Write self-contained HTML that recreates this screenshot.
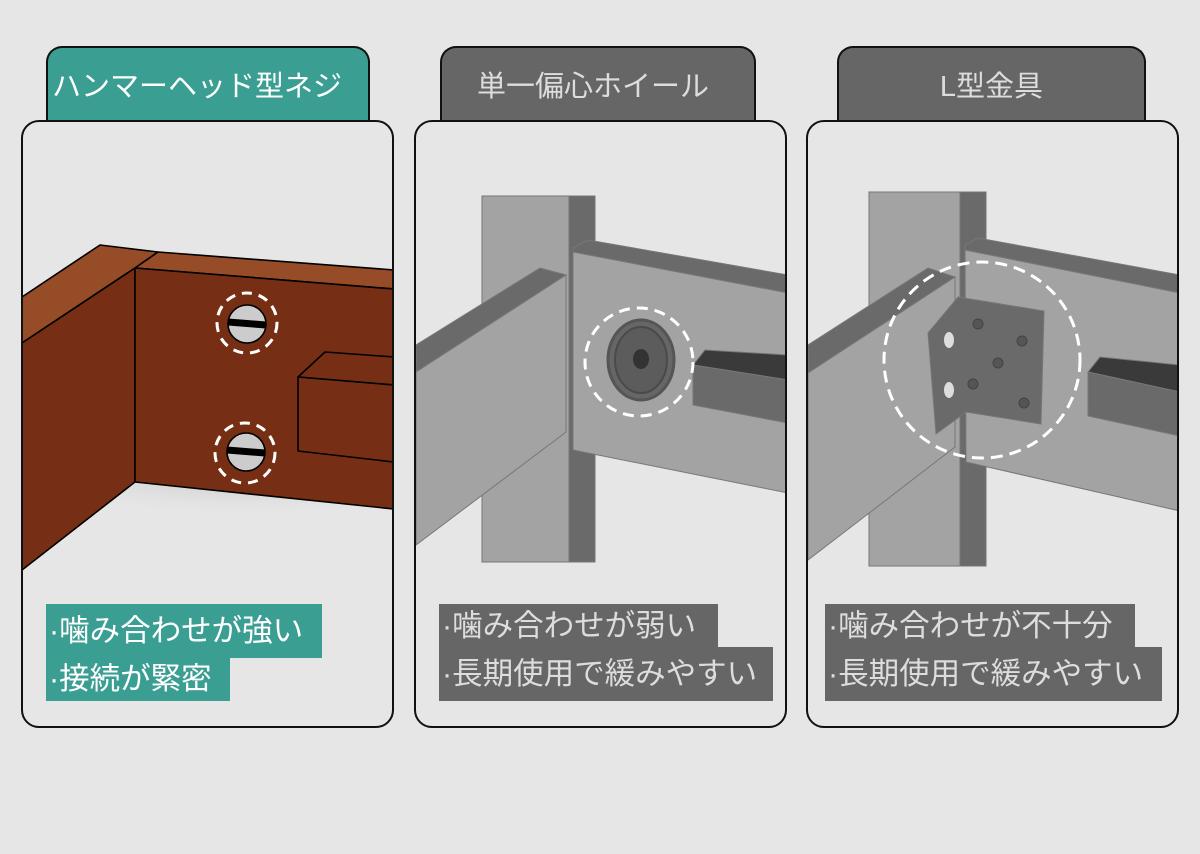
<!DOCTYPE html>
<html><head><meta charset="utf-8"><style>
body{margin:0;background:#e6e6e6;width:1200px;height:854px;overflow:hidden;position:relative;font-family:"Liberation Sans","Noto Sans CJK JP",sans-serif}
.tab{position:absolute;top:46px;height:76px;border:2px solid #111;border-bottom:none;border-radius:16px 16px 0 0;box-sizing:border-box;font-size:29px;display:flex;align-items:center;justify-content:center;padding-bottom:2px}
.card{position:absolute;top:120px;height:608px;border:2px solid #111;border-radius:18px;box-sizing:border-box;background:#e6e6e6;overflow:hidden}
.ln{position:absolute;font-size:30.5px;line-height:1;padding:0 0 0 3px;box-sizing:border-box;display:flex;align-items:center;white-space:nowrap}
</style></head><body>
<div class="tab" style="left:46px;width:324px;background:#3a9e92;color:#fff;padding-right:22px">ハンマーヘッド型ネジ</div>
<div class="tab" style="left:440px;width:316px;background:#666;color:#ddd;padding-right:10px">単一偏心ホイール</div>
<div class="tab" style="left:837px;width:309px;background:#666;color:#ddd">L型金具</div>

<div class="card" style="left:21px;width:373px">
<svg width="373" height="608" viewBox="21 120 373 608" style="position:absolute;left:-2px;top:-2px">
<defs><radialGradient id="sh" cx="0.5" cy="0" r="0.8"><stop offset="0" stop-color="#bbb"/><stop offset="1" stop-color="#e6e6e6" stop-opacity="0"/></radialGradient></defs>
<ellipse cx="250" cy="500" rx="160" ry="30" fill="url(#sh)"/>
<g stroke="#000" stroke-width="1.6" stroke-linejoin="round">
<polygon points="22,297 100,245 158,252 135,268 22,343" fill="#974c28"/>
<polygon points="135,268 158,252 394,270 394,289" fill="#974c28"/>
<polygon points="22,343 135,268 135,482 22,570" fill="#762f14"/>
<polygon points="135,268 394,289 394,509 135,482" fill="#762f14"/>
<polygon points="298,377 325,352 394,357 394,385" fill="#762f14"/>
<polygon points="298,377 394,385 394,462 298,451" fill="#762f14"/>
<circle cx="247" cy="324" r="19" fill="#ccc"/>
<circle cx="246" cy="452" r="19" fill="#ccc"/>
</g>
<line x1="228" y1="322" x2="266" y2="325" stroke="#000" stroke-width="7"/>
<line x1="227" y1="450" x2="265" y2="453" stroke="#000" stroke-width="7"/>
<circle cx="247" cy="323" r="30" fill="none" stroke="#fff" stroke-width="3" stroke-dasharray="10,7"/>
<circle cx="245" cy="453" r="30" fill="none" stroke="#fff" stroke-width="3" stroke-dasharray="10,7"/>
</svg>
</div>

<div class="card" style="left:414px;width:373px">
<svg width="373" height="608" viewBox="414 120 373 608" style="position:absolute;left:-2px;top:-2px">
<g stroke="#777" stroke-width="1">
<rect x="482" y="196" width="87" height="366" fill="#a3a3a3"/>
<rect x="569" y="196" width="26" height="366" fill="#6a6a6a"/>
<polygon points="416,345 540,268 566,275 416,372" fill="#6a6a6a"/>
<polygon points="416,372 566,275 566,432 416,545" fill="#a3a3a3"/>
<polygon points="573,248 588,240 788,275 788,293 573,252" fill="#6a6a6a"/>
<polygon points="573,252 788,293 788,493 573,450" fill="#a3a3a3"/>
<polygon points="693,365 705,350 788,355 788,380" fill="#3a3a3a"/>
<polygon points="693,365 788,380 788,423 693,405" fill="#6a6a6a"/>
</g>
<ellipse cx="641" cy="360" rx="33" ry="40" fill="#666" stroke="#555" stroke-width="3"/>
<ellipse cx="641" cy="360" rx="26" ry="33" fill="#5c5c5c" stroke="#4a4a4a" stroke-width="2"/>
<ellipse cx="641" cy="359" rx="8" ry="10" fill="#333"/>
<circle cx="639" cy="362" r="54" fill="none" stroke="#fff" stroke-width="3" stroke-dasharray="11,7"/>
</svg>
</div>

<div class="card" style="left:806px;width:373px">
<svg width="373" height="608" viewBox="806 120 373 608" style="position:absolute;left:-2px;top:-2px">
<g stroke="#777" stroke-width="1">
<rect x="869" y="192" width="91" height="374" fill="#a3a3a3"/>
<rect x="960" y="192" width="26" height="374" fill="#6a6a6a"/>
<polygon points="808,345 928,268 955,277 808,373" fill="#6a6a6a"/>
<polygon points="808,373 955,277 955,447 808,560" fill="#a3a3a3"/>
<polygon points="965,245 978,238 1180,275 1180,293 965,250" fill="#6a6a6a"/>
<polygon points="965,250 1180,293 1180,511 966,462" fill="#a3a3a3"/>
<polygon points="1088,372 1100,357 1180,365 1180,392" fill="#3a3a3a"/>
<polygon points="1088,372 1180,392 1180,436 1088,416" fill="#6a6a6a"/>
<polygon points="928,333 958,297 1044,311 1041,424 966,412 936,434" fill="#6a6a6a"/>
</g>
<g fill="#555" stroke="#444"><circle cx="978" cy="324" r="5"/><circle cx="1022" cy="341" r="5"/><circle cx="998" cy="363" r="5"/><circle cx="973" cy="384" r="5"/><circle cx="1024" cy="403" r="5"/></g>
<ellipse cx="949" cy="340" rx="5" ry="8" fill="#ddd"/><ellipse cx="949" cy="390" rx="5" ry="8" fill="#ddd"/>
<circle cx="982" cy="360" r="98" fill="none" stroke="#fff" stroke-width="3" stroke-dasharray="12,7"/>
</svg>
</div>

<div class="ln" style="left:46px;top:604px;width:276px;height:54px;background:#3a9e92;color:#fff">·噛み合わせが強い</div>
<div class="ln" style="left:46px;top:657px;width:184px;height:44px;background:#3a9e92;color:#fff">·接続が緊密</div>
<div class="ln" style="left:439px;top:604px;width:279px;height:44px;background:#666;color:#ddd">·噛み合わせが弱い</div>
<div class="ln" style="left:439px;top:647px;width:334px;height:54px;background:#666;color:#ddd">·長期使用で緩みやすい</div>
<div class="ln" style="left:825px;top:604px;width:310px;height:44px;background:#666;color:#ddd">·噛み合わせが不十分</div>
<div class="ln" style="left:825px;top:647px;width:337px;height:54px;background:#666;color:#ddd">·長期使用で緩みやすい</div>
</body></html>
